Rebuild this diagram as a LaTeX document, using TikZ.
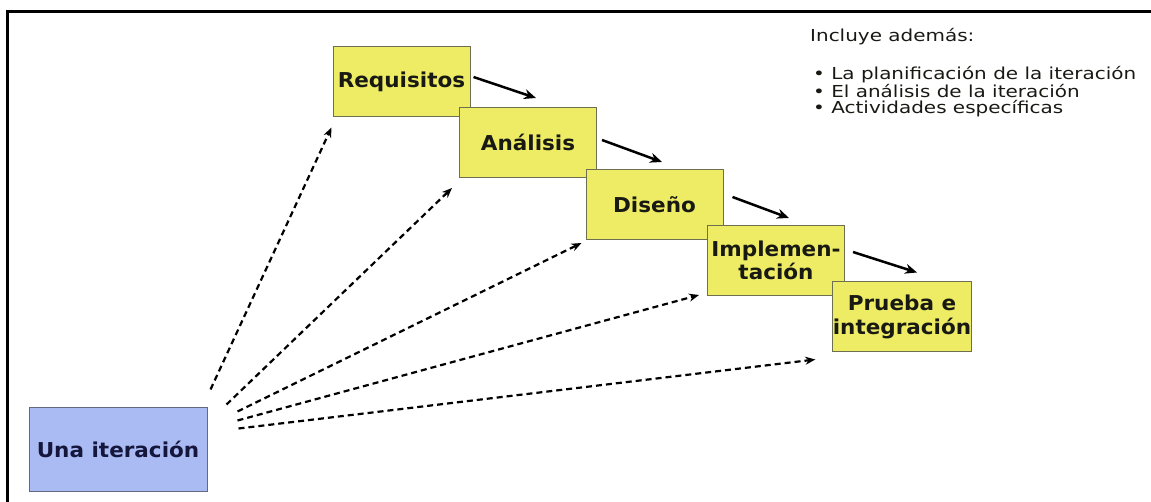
\documentclass[tikz,border=0pt]{standalone}
\usepackage{fontspec}
\newfontfamily\cajafont[FakeStretch=1.05]{DejaVu Sans}
\newfontfamily\notafont[FakeStretch=1.21]{DejaVu Sans}
\usetikzlibrary{arrows.meta}
\definecolor{amarillo}{RGB}{237,236,100}
\definecolor{bordeamar}{RGB}{110,110,80}
\definecolor{azulcaja}{RGB}{170,186,243}
\definecolor{bordeazul}{RGB}{100,105,130}
\definecolor{tinta}{RGB}{25,25,20}
\definecolor{tintaazul}{RGB}{20,22,60}

\begin{document}
\begin{tikzpicture}[x=1pt,y=-1pt,
  caja/.style={draw=bordeamar,line width=1pt,fill=amarillo,minimum width=137pt,minimum height=70pt,
    inner sep=0pt,align=center,text=tinta,font=\cajafont\bfseries\fontsize{20.5}{23.5}\selectfont},
  flecha/.style={line width=2.5pt,-{Stealth[length=12pt,width=10pt]}},
  punteada/.style={line width=2.2pt,dash pattern=on 6pt off 4pt,-{Stealth[length=10pt,width=8pt]}},
  nota/.style={inner sep=0pt,text=tinta,font=\notafont\fontsize{16.5}{16}\selectfont}]
\useasboundingbox (0,0) rectangle (1151,502);
\draw[line width=3pt] (7.5,502)--(7.5,11.5)--(1151,11.5);

\node[caja] (req) at (401.5,82) {Requisitos};
\node[caja] (ana) at (528,142.5) {Análisis};
\node[caja] (dis) at (654.5,204.5) {Diseño};
\node[caja] (imp) at (776,260.5) {Implemen-\\tación};
\node[caja] (pru) at (902,317) {Prueba e\\integración};
\node[caja,fill=azulcaja,draw=bordeazul,text=tintaazul,minimum width=178pt,minimum height=84pt] (una) at (118,449) {Una iteración};

\node[nota,anchor=base west] (incl) at (810,42) {Incluye además:};
\node[nota,anchor=north west,align=left] (lista) at (813,66.5) {• La planificación de la iteración\\• El análisis de la iteración\\• Actividades específicas};

% secuencia de actividades
\foreach \a/\b/\sx/\sy/\ex/\ey in {req/ana/3/-5/8/-9, ana/dis/5/-2.5/7.5/-7, dis/imp/9/-7.5/13/-7, imp/pru/8/-8.5/15/-9}
  \draw[flecha] ([shift={(\sx,\sy)}]\a.east)--([shift={(\ex,\ey)}]\b.north);

% la iteracion abarca todo
\foreach \b/\sx/\sy/\ex/\ey in {req/3/-17/-1/10, ana/19/-2/-7/10, dis/30/5/-4/3, imp/30/14/-8/-1, pru/31/22/-17/7}
  \draw[punteada] ([shift={(\sx,\sy)}]una.north east)--([shift={(\ex,\ey)}]\b.south west);
\end{tikzpicture}
\end{document}
